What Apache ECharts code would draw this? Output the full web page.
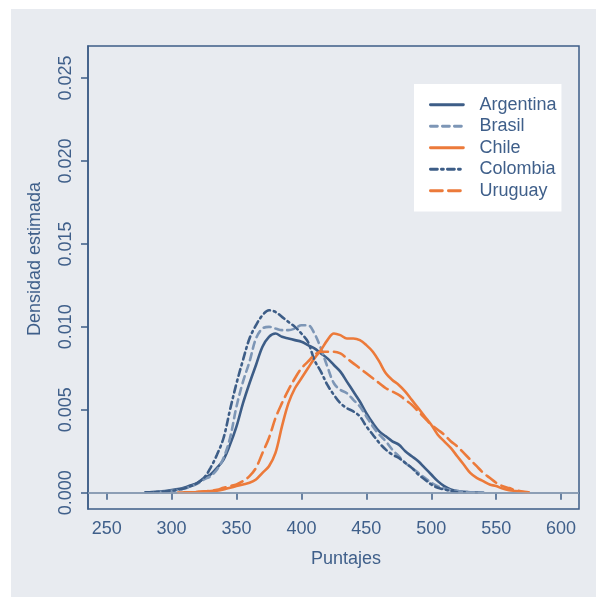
<!DOCTYPE html>
<html>
<head>
<meta charset="utf-8">
<script src="https://cdn.jsdelivr.net/npm/echarts@6/dist/echarts.min.js"></script>
<style>
  html, body { margin: 0; padding: 0; background: #ffffff; }
  #chart { width: 596px; height: 597px; }
</style>
</head>
<body>
<div id="chart"></div>
<script>
// Puntajes grid (step 5) shared by every density curve
const puntajes = [];
for (let p = 280; p <= 575; p += 5) puntajes.push(p);

// Estimated densities, one value per score in `puntajes` (null = outside the curve)
const argentina = [
  0.00002, 0.00004, 0.00007, 0.00011, 0.00016, 0.00022, 0.00032, 0.00046, 0.0006, 0.0009,
  0.0011, 0.0015, 0.0020, 0.0029, 0.0040, 0.0054, 0.0066, 0.0077, 0.0088, 0.0094,
  0.0096, 0.0094, 0.0093, 0.0092, 0.0091, 0.0089, 0.0087, 0.0084, 0.0081, 0.0077,
  0.0073, 0.0067, 0.0061, 0.0055, 0.0048, 0.0042, 0.0037, 0.0034, 0.0031, 0.0029,
  0.0025, 0.0022, 0.0019, 0.0015, 0.0011, 0.0007, 0.0004, 0.0002, 0.0001, 0.00005,
  0.00002, 0.00001, 0.0, null, null, null, null, null, null, null
];
const brasil = [
  0.00002, 0.00003, 0.00005, 0.00008, 0.00012, 0.00018, 0.00026, 0.00038, 0.00055, 0.0008,
  0.0010, 0.0014, 0.0021, 0.0033, 0.0052, 0.0067, 0.0079, 0.0093, 0.0099, 0.0100,
  0.0099, 0.0098, 0.0098, 0.0099, 0.0101, 0.0101, 0.0096, 0.0087, 0.0076, 0.0066,
  0.0062, 0.0060, 0.0056, 0.0052, 0.0046, 0.0040, 0.0035, 0.0031, 0.0026, 0.0022,
  0.0018, 0.0015, 0.0012, 0.0009, 0.0006, 0.0004, 0.00025, 0.00015, 0.0001, 0.00006,
  0.00003, 0.00002, 0.00001, null, null, null, null, null, null, null
];
const chile = [
  null, null, null, null, null, null, 0.00001, 0.00002, 0.00004, 0.00006,
  0.0001, 0.00013, 0.0002, 0.0003, 0.0004, 0.0005, 0.0006, 0.0008, 0.0012, 0.0016,
  0.0024, 0.0040, 0.0054, 0.0063, 0.0069, 0.0075, 0.0081, 0.0086, 0.0092, 0.0096,
  0.0095, 0.0093, 0.0093, 0.0092, 0.0089, 0.0085, 0.0079, 0.0072, 0.0068, 0.0065,
  0.0061, 0.0056, 0.0051, 0.0046, 0.0041, 0.0035, 0.0031, 0.0027, 0.0022, 0.0017,
  0.0012, 0.0009, 0.0007, 0.0005, 0.0004, 0.00025, 0.00015, 0.0001, 0.00005, 0.00002
];
const colombia = [
  0.00002, 0.00003, 0.00005, 0.00008, 0.00012, 0.00018, 0.00027, 0.0004, 0.0006, 0.0009,
  0.0015, 0.0023, 0.0033, 0.0050, 0.0066, 0.0080, 0.0093, 0.0101, 0.0107, 0.0110,
  0.0109, 0.0106, 0.0103, 0.0100, 0.0096, 0.0091, 0.0080, 0.0073, 0.0065, 0.0059,
  0.0054, 0.0051, 0.0049, 0.0046, 0.0040, 0.0035, 0.0030, 0.0026, 0.0023, 0.0021,
  0.0018, 0.0015, 0.0011, 0.0008, 0.0005, 0.0003, 0.0002, 0.0001, 0.00003, null,
  null, null, null, null, null, null, null, null, null, null
];
const uruguay = [
  null, null, null, null, null, 0.00001, 0.00002, 0.00003, 0.00005, 0.00008,
  0.00012, 0.00018, 0.0003, 0.0004, 0.0005, 0.0007, 0.0010, 0.0015, 0.0024, 0.0033,
  0.0045, 0.0054, 0.0062, 0.0069, 0.0075, 0.0079, 0.0083, 0.0085, 0.0085, 0.0085,
  0.0084, 0.0081, 0.0078, 0.0075, 0.0072, 0.0069, 0.0066, 0.0063, 0.0061, 0.0059,
  0.0056, 0.0053, 0.0049, 0.0045, 0.0041, 0.0038, 0.0035, 0.0031, 0.0028, 0.0024,
  0.0020, 0.0016, 0.0012, 0.0009, 0.0006, 0.0004, 0.00028, 0.00015, 0.00008, 0.00003
];

// Tick positions and labels
const xTicks = [250, 300, 350, 400, 450, 500, 550, 600];
const yTicks = [0, 0.005, 0.010, 0.015, 0.020, 0.025];

const paises = ['Argentina', 'Brasil', 'Chile', 'Colombia', 'Uruguay'];

const azul = '#3d5d87';
const azulClaro = '#7d96b6';
const naranja = '#ec7a3a';
const texto = '#3f5f8a';
const fondo = '#e8ebf0';

function pares(vals) {
  return puntajes.map((p, i) => [p, vals[i]]);
}

const estilos = [
  { data: argentina, color: azul, type: 'solid' },
  { data: brasil, color: azulClaro, type: [7, 5] },
  { data: chile, color: naranja, type: 'solid' },
  { data: colombia, color: azul, type: [7, 4, 2, 4] },
  { data: uruguay, color: naranja, type: [12, 6] }
];

const chart = echarts.init(document.getElementById('chart'), null, { renderer: 'canvas' });

const series = paises.map((name, i) => ({
  name: name,
  type: 'line',
  data: pares(estilos[i].data),
  smooth: 0.35,
  showSymbol: false,
  symbol: 'none',
  connectNulls: false,
  z: 3,
  lineStyle: { color: estilos[i].color, width: 2.6, type: estilos[i].type, cap: 'round' },
  itemStyle: { color: estilos[i].color }
}));

// Reference line at zero density
series.push({
  type: 'line',
  data: [],
  z: 1,
  silent: true,
  markLine: {
    silent: true,
    symbol: 'none',
    label: { show: false },
    lineStyle: { color: '#98a8bd', width: 1.5, type: 'solid' },
    data: [{ yAxis: 0 }]
  }
});

const fuente = 'Liberation Sans, Arial, Helvetica, sans-serif';

chart.setOption({
  backgroundColor: '#ffffff',
  animation: false,
  graphic: [
    { type: 'rect', z: -10, shape: { x: 11, y: 9, width: 585, height: 588 }, style: { fill: fondo } },
    {
      type: 'text', z: 10, x: 346, y: 559,
      style: { text: 'Puntajes', fill: texto, font: '18px ' + fuente, textAlign: 'center', textVerticalAlign: 'middle' }
    },
    {
      type: 'text', z: 10, x: 35, y: 259, rotation: Math.PI / 2,
      style: { text: 'Densidad estimada', fill: texto, font: '18px ' + fuente, textAlign: 'center', textVerticalAlign: 'middle' }
    }
  ],
  grid: {
    left: 88, right: 17, top: 46, bottom: 88,
    show: true, borderColor: azul, borderWidth: 1.5, backgroundColor: 'transparent'
  },
  legend: {
    data: paises,
    orient: 'vertical',
    left: 414, top: 84,
    backgroundColor: '#ffffff',
    padding: [10, 5, 10, 15],
    itemWidth: 33, itemHeight: 14, itemGap: 0,
    itemStyle: { opacity: 0, borderWidth: 0 },
    lineStyle: { width: 2.8 },
    textStyle: { color: texto, fontSize: 18, fontFamily: fuente, lineHeight: 21.5, padding: [0, 0, 0, 11] }
  },
  xAxis: {
    type: 'value',
    min: 235.6, max: 613.8,
    axisLine: { show: true, lineStyle: { color: azul, width: 1.5 } },
    axisTick: { show: true, length: 7, lineStyle: { color: azul, width: 1.5 }, customValues: xTicks },
    axisLabel: { color: texto, fontSize: 18, fontFamily: fuente, margin: 11, customValues: xTicks },
    splitLine: { show: false }
  },
  yAxis: {
    type: 'value',
    min: -0.00098, max: 0.02693,
    axisLine: { show: true, lineStyle: { color: azul, width: 1.5 } },
    axisTick: { show: true, length: 7, lineStyle: { color: azul, width: 1.5 }, customValues: yTicks },
    axisLabel: {
      color: texto, fontSize: 18, fontFamily: fuente, margin: 13, rotate: 90,
      customValues: yTicks,
      formatter: v => v.toFixed(3)
    },
    splitLine: { show: false }
  },
  series: series
});
</script>
</body>
</html>
